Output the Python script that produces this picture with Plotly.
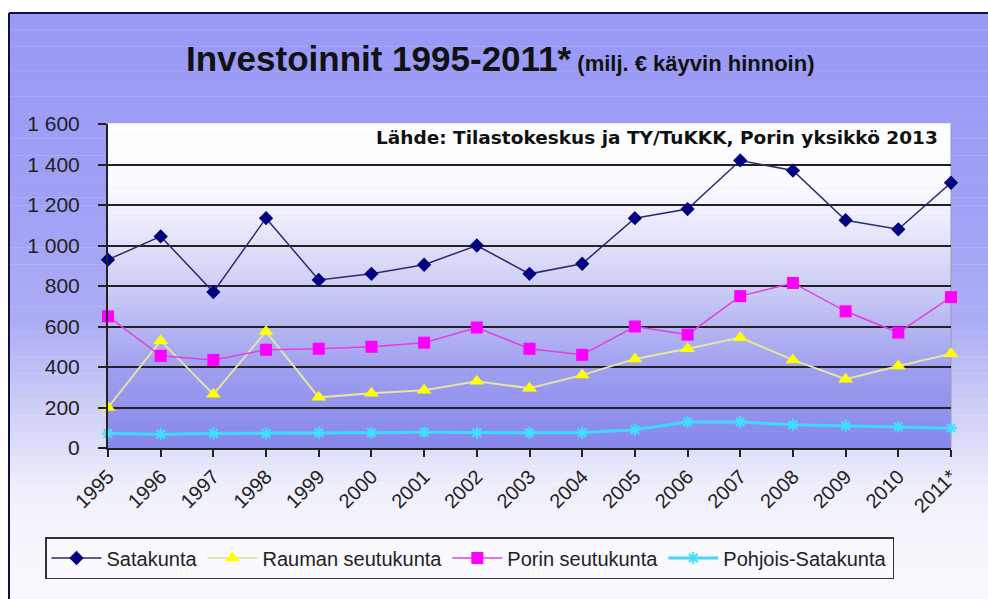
import plotly.graph_objects as go

years = ["1995", "1996", "1997", "1998", "1999", "2000", "2001", "2002", "2003",
         "2004", "2005", "2006", "2007", "2008", "2009", "2010", "2011*"]
satakunta = [930, 1045, 770, 1135, 830, 860, 905, 1000, 860, 910, 1135, 1180, 1420, 1370, 1125, 1080, 1310]
rauma = [200, 530, 265, 575, 250, 270, 285, 330, 295, 360, 440, 490, 545, 435, 340, 405, 465]
pori = [650, 455, 435, 485, 490, 500, 520, 595, 490, 460, 600, 560, 750, 815, 675, 570, 745]
pohjois = [72, 68, 72, 72, 75, 75, 78, 75, 75, 75, 90, 128, 128, 115, 110, 105, 98]
y_ticks = [0, 200, 400, 600, 800, 1000, 1200, 1400, 1600]
y_ticktext = ["0", "200", "400", "600", "800", "1 000", "1 200", "1 400", "1 600"]

W, H = 988, 599


def fx(p):
    return p / W


def fy(p):
    return 1 - p / H


PX0, PX1, PY0, PY1 = 108, 951, 124, 448  # plot area in screen pixels


def lerp(c1, c2, t):
    return tuple(a + (b - a) * t for a, b in zip(c1, c2))


def stops_color(stops, p):
    for (p0, c0), (p1, c1) in zip(stops, stops[1:]):
        if p <= p1:
            t = (p - p0) / (p1 - p0) if p1 > p0 else 0
            return "rgb(%d,%d,%d)" % tuple(round(v) for v in lerp(c0, c1, max(0, min(1, t))))
    return "rgb(%d,%d,%d)" % stops[-1][1]


shapes = []
# outer frame gradient (screen pixel stops)
frame_stops = [(13, (153, 153, 246)), (200, (160, 160, 246)), (320, (172, 172, 246)),
               (420, (210, 210, 248)), (490, (240, 240, 252)), (620, (252, 252, 255))]
n = 70
fy0, fy1 = 13, 600
for i in range(n):
    ya = fy0 + (fy1 - fy0) * i / n
    yb = fy0 + (fy1 - fy0) * (i + 1) / n
    shapes.append(dict(type="rect", xref="paper", yref="paper", x0=fx(9), x1=1.05,
                       y0=max(0.0, fy(yb)), y1=fy(ya) + 0.0006, line=dict(width=0),
                       fillcolor=stops_color(frame_stops, (ya + yb) / 2), layer="below"))
# frame border
shapes.append(dict(type="line", xref="paper", yref="paper", x0=fx(9), x1=fx(9),
                   y0=0, y1=fy(13), line=dict(color="#101040", width=2), layer="below"))
shapes.append(dict(type="line", xref="paper", yref="paper", x0=fx(9), x1=1.05,
                   y0=fy(13), y1=fy(13), line=dict(color="#101040", width=2), layer="below"))
# plot area gradient
plot_stops = [(0.0, (255, 255, 255)), (0.2, (250, 250, 255)), (0.5, (206, 206, 246)),
              (0.75, (160, 160, 240)), (1.0, (134, 134, 236))]
m = 60
for i in range(m):
    t = (i + 0.5) / m
    shapes.append(dict(type="rect", xref="x domain", yref="y domain", x0=0, x1=1,
                       y0=1 - (i + 1) / m, y1=1 - i / m + 0.002, line=dict(width=0),
                       fillcolor=stops_color(plot_stops, t), layer="below"))
# faint right edge of plot area
shapes.append(dict(type="line", xref="x domain", yref="y domain", x0=1, x1=1, y0=0, y1=1,
                   line=dict(color="#9a9ab0", width=1), layer="below"))

fig = go.Figure()
fig.add_trace(go.Scatter(x=years, y=satakunta, name="Satakunta", mode="lines+markers",
                         line=dict(color="#2a2a70", width=1.5),
                         marker=dict(symbol="diamond", size=11, color="#000080"),
                         cliponaxis=False))
fig.add_trace(go.Scatter(x=years, y=rauma, name="Rauman seutukunta", mode="lines+markers",
                         line=dict(color="#e4e4a8", width=2),
                         marker=dict(symbol="triangle-up", size=13, color="#ffff00"),
                         cliponaxis=False))
fig.add_trace(go.Scatter(x=years, y=pori, name="Porin seutukunta", mode="lines+markers",
                         line=dict(color="#e040e0", width=1.5),
                         marker=dict(symbol="square", size=12, color="#ff00ff"),
                         cliponaxis=False))
fig.add_trace(go.Scatter(x=years, y=pohjois, name="Pohjois-Satakunta", mode="lines+markers",
                         line=dict(color="#40d8ff", width=3),
                         marker=dict(symbol="asterisk", size=10, color="#40e0ff",
                                     line=dict(color="#40e0ff", width=2)),
                         cliponaxis=False))

fig.update_layout(
    width=W, height=H,
    margin=dict(l=0, r=0, t=0, b=0),
    paper_bgcolor="white", plot_bgcolor="rgba(0,0,0,0)",
    shapes=shapes,
    font=dict(family="Liberation Sans, Arial, sans-serif", color="#222222"),
    xaxis=dict(domain=[fx(PX0), fx(PX1)], type="category", range=[0, 16],
               showgrid=False, showline=True, linecolor="#222222", linewidth=2,
               ticks="outside", ticklen=7, tickcolor="#222222", tickwidth=1.5,
               tickangle=-45, tickfont=dict(size=20, color="#222222"),
               automargin=False, zeroline=False),
    yaxis=dict(domain=[fy(PY1), fy(PY0)], range=[0, 1600],
               tickvals=y_ticks, ticktext=y_ticktext,
               showgrid=True, gridcolor="#222222", gridwidth=1.5,
               showline=True, linecolor="#222222", linewidth=2,
               ticks="outside", ticklen=8, tickcolor="#222222", tickwidth=1.5,
               tickfont=dict(size=21, color="#222222"), ticklabelstandoff=14,
               automargin=False, zeroline=False),
    showlegend=True,
    legend=dict(orientation="h", x=fx(45), y=fy(537), xanchor="left", yanchor="top",
                bgcolor="rgba(255,255,255,0.3)", bordercolor="#333333", borderwidth=1.5,
                font=dict(family="Liberation Sans, Arial, sans-serif",
                          size=20, color="#222222"),
                itemwidth=50, tracegroupgap=0),
    annotations=[
        dict(xref="paper", yref="paper", x=fx(500), y=fy(58), xanchor="center", yanchor="middle",
             showarrow=False,
             text="<b>Investoinnit 1995-2011*</b><b><span style='font-size:22px'> (milj. € käyvin hinnoin)</span></b>",
             font=dict(family="Liberation Sans, Arial, sans-serif",
                       size=35, color="#111111")),
        dict(xref="paper", yref="paper", x=fx(940), y=fy(138), xanchor="right", yanchor="middle",
             showarrow=False,
             text="<b>Lähde: Tilastokeskus ja TY/TuKKK, Porin yksikkö 2013</b>",
             font=dict(family="DejaVu Sans, Verdana, sans-serif", size=18.5, color="#111111")),
    ],
)

fig.write_html("out.html", config={"displayModeBar": False},
               post_script="document.body.style.margin='0px';document.body.style.overflow='hidden';")
